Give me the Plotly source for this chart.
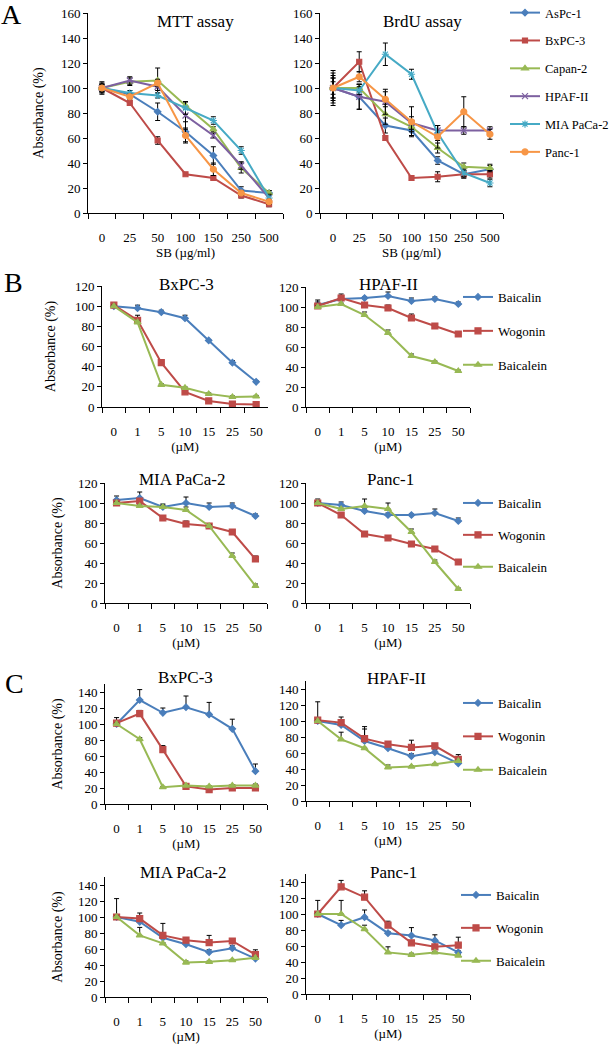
import plotly.graph_objects as go

W, H = 613, 1050
FONT = "'Liberation Serif', 'Times New Roman', Times, serif"

# ---------------- data ----------------
sb_doses = ["0", "25", "50", "100", "150", "250", "500"]
um_doses = ["0", "1", "5", "10", "15", "25", "50"]
a_lines = ["AsPc-1", "BxPC-3", "Capan-2", "HPAF-II", "MIA PaCa-2", "Panc-1"]
flavonoids = ["Baicalin", "Wogonin", "Baicalein"]

# Panel A - MTT assay
mtt_aspc1 = [100, 95, 81, 65, 46, 18, 16]
mtt_bxpc3 = [100, 88, 58, 31, 28, 14, 7]
mtt_capan2 = [100, 105, 106, 86, 67, 36, 16]
mtt_hpaf2 = [100, 106, 101, 78, 62, 38, 12]
mtt_miapaca2 = [100, 96, 94, 84, 74, 50, 12]
mtt_panc1 = [100, 93, 104, 62, 35, 16, 9]
mtt_aspc1_err = [5, 3, 7, 8, 7, 3, 2]
mtt_bxpc3_err = [3, 2, 3, 1, 1, 2, 2]
mtt_capan2_err = [3, 3, 10, 3, 2, 4, 2]
mtt_hpaf2_err = [3, 3, 3, 11, 2, 3, 2]
mtt_miapaca2_err = [3, 2, 2, 5, 3, 3, 3]
mtt_panc1_err = [4, 2, 3, 6, 5, 2, 2]

# Panel A - BrdU assay
brdu_aspc1 = [100, 93, 70, 66, 42, 31, 35]
brdu_bxpc3 = [100, 121, 60, 28, 29, 31, 31]
brdu_capan2 = [100, 100, 79, 69, 52, 37, 36]
brdu_hpaf2 = [100, 93, 89, 72, 66, 66, 66]
brdu_miapaca2 = [100, 98, 127, 111, 64, 32, 24]
brdu_panc1 = [100, 109, 91, 73, 61, 81, 63]
brdu_aspc1_err = [14, 10, 6, 4, 3, 3, 3]
brdu_bxpc3_err = [8, 8, 2, 2, 4, 3, 3]
brdu_capan2_err = [12, 3, 8, 4, 4, 3, 3]
brdu_hpaf2_err = [8, 10, 10, 5, 4, 3, 3]
brdu_miapaca2_err = [10, 3, 9, 4, 6, 3, 3]
brdu_panc1_err = [5, 4, 6, 12, 9, 12, 4]

# Panel B
b_bxpc3_baicalin = [100, 98, 94, 88, 66, 44, 25]
b_bxpc3_wogonin = [101, 86, 44, 15, 6, 3, 2.5]
b_bxpc3_baicalein = [100, 84, 22, 19, 13, 10, 10.5]
b_bxpc3_baicalin_err = [2, 3, 2, 3, 1, 2, 1]
b_bxpc3_wogonin_err = [2, 5, 3, 2, 1, 1, 1]
b_bxpc3_baicalein_err = [1, 1, 1, 1, 1, 1, 1]

b_hpaf2_baicalin = [102, 108, 109, 111, 106, 108, 103]
b_hpaf2_wogonin = [101, 109, 102, 99, 89, 81, 73]
b_hpaf2_baicalein = [100, 103, 92, 74, 51, 45, 36]
b_hpaf2_baicalin_err = [3, 2, 1, 4, 3, 2, 2]
b_hpaf2_wogonin_err = [6, 4, 2, 3, 4, 2, 2]
b_hpaf2_baicalein_err = [1, 1, 3, 3, 2, 1, 1]

b_mia_baicalin = [103, 105, 96, 100, 96, 97, 87]
b_mia_wogonin = [100, 102, 85, 79, 77, 71, 44]
b_mia_baicalein = [100, 97, 96, 93, 77, 47, 17]
b_mia_baicalin_err = [4, 6, 3, 6, 4, 3, 2]
b_mia_wogonin_err = [1, 2, 2, 3, 1, 2, 3]
b_mia_baicalein_err = [1, 1, 2, 3, 1, 3, 2]

b_panc1_baicalin = [100, 98, 92, 88, 88, 90, 82]
b_panc1_wogonin = [100, 88, 69, 65, 59, 54, 41]
b_panc1_baicalein = [100, 94, 97, 94, 71, 41, 14]
b_panc1_baicalin_err = [4, 3, 2, 2, 1, 4, 3]
b_panc1_wogonin_err = [2, 2, 1, 2, 2, 2, 2]
b_panc1_baicalein_err = [1, 1, 7, 6, 3, 2, 1]

# Panel C
c_bxpc3_baicalin = [100, 130, 114, 121, 112, 94, 41]
c_bxpc3_wogonin = [101, 113, 68, 22, 18, 20, 20]
c_bxpc3_baicalein = [100, 81, 21, 23, 22, 23, 23]
c_bxpc3_baicalin_err = [8, 13, 6, 14, 15, 12, 9]
c_bxpc3_wogonin_err = [2, 4, 5, 1, 1, 1, 1]
c_bxpc3_baicalein_err = [1, 2, 1, 1, 1, 1, 2]

c_hpaf2_baicalin = [100, 95, 75, 66, 56, 61, 47]
c_hpaf2_wogonin = [101, 98, 78, 71, 67, 69, 52]
c_hpaf2_baicalein = [100, 77, 66, 42, 43, 46, 50]
c_hpaf2_baicalin_err = [1, 2, 15, 2, 3, 3, 3]
c_hpaf2_wogonin_err = [23, 7, 15, 3, 9, 2, 6]
c_hpaf2_baicalein_err = [1, 9, 1, 3, 1, 1, 1]

c_mia_baicalin = [100, 94, 74, 66, 56, 61, 48]
c_mia_wogonin = [100, 98, 77, 71, 68, 70, 53]
c_mia_baicalein = [100, 77, 67, 43, 44, 46, 49]
c_mia_baicalin_err = [1, 2, 2, 2, 3, 3, 3]
c_mia_wogonin_err = [23, 7, 15, 3, 9, 2, 6]
c_mia_baicalein_err = [1, 10, 1, 2, 1, 1, 1]

c_panc1_baicalin = [100, 86, 96, 76, 73, 67, 52]
c_panc1_wogonin = [100, 134, 121, 86, 64, 59, 61]
c_panc1_baicalein = [100, 100, 81, 52, 49, 52, 48]
c_panc1_baicalin_err = [17, 6, 9, 2, 10, 7, 2]
c_panc1_wogonin_err = [1, 8, 8, 5, 2, 2, 10]
c_panc1_baicalein_err = [1, 17, 5, 7, 2, 1, 1]

# ---------------- styles ----------------
a_styles = {
    "AsPc-1": ("#4A7EBB", "diamond", 5),
    "BxPC-3": ("#BE4B48", "square", 5),
    "Capan-2": ("#98B954", "triangle-up", 6),
    "HPAF-II": ("#7D60A0", "x-thin-open", 6),
    "MIA PaCa-2": ("#46AAC5", "asterisk-open", 6),
    "Panc-1": ("#F79646", "circle", 6),
}
f_styles = {
    "Baicalin": ("#4A7EBB", "diamond", 5),
    "Wogonin": ("#BE4B48", "square", 6),
    "Baicalein": ("#98B954", "triangle-up", 6),
}

mtt_vals = [mtt_aspc1, mtt_bxpc3, mtt_capan2, mtt_hpaf2, mtt_miapaca2, mtt_panc1]
mtt_errs = [mtt_aspc1_err, mtt_bxpc3_err, mtt_capan2_err, mtt_hpaf2_err, mtt_miapaca2_err, mtt_panc1_err]
brdu_vals = [brdu_aspc1, brdu_bxpc3, brdu_capan2, brdu_hpaf2, brdu_miapaca2, brdu_panc1]
brdu_errs = [brdu_aspc1_err, brdu_bxpc3_err, brdu_capan2_err, brdu_hpaf2_err, brdu_miapaca2_err, brdu_panc1_err]

panels = [
    dict(title="MTT assay", x0=88, x1=283, yt=13, yb=213, ymax=160, cats=sb_doses,
         vals=mtt_vals, errs=mtt_errs, names=a_lines, styles=a_styles, ytitle=True, ystand=14,
         xtitle="SB (µg/ml)", legend=None, sym=True, tpos=(195, 21)),
    dict(title="BrdU assay", x0=320, x1=503, yt=13, yb=213, ymax=160, cats=sb_doses,
         vals=brdu_vals, errs=brdu_errs, names=a_lines, styles=a_styles, ytitle=False, ystand=10,
         xtitle="SB (µg/ml)", legend="legend", sym=True, tpos=(422, 21)),
    dict(title="BxPC-3", x0=102, x1=268, yt=286, yb=407, ymax=120, cats=um_doses,
         vals=[b_bxpc3_baicalin, b_bxpc3_wogonin, b_bxpc3_baicalein],
         errs=[b_bxpc3_baicalin_err, b_bxpc3_wogonin_err, b_bxpc3_baicalein_err],
         names=flavonoids, styles=f_styles, ytitle=True, ystand=16, xtitle="(µM)", legend=None, sym=False,
         tpos=(186, 285)),
    dict(title="HPAF-II", x0=306, x1=470, yt=287, yb=407, ymax=120, cats=um_doses,
         vals=[b_hpaf2_baicalin, b_hpaf2_wogonin, b_hpaf2_baicalein],
         errs=[b_hpaf2_baicalin_err, b_hpaf2_wogonin_err, b_hpaf2_baicalein_err],
         names=flavonoids, styles=f_styles, ytitle=False, ystand=10, xtitle="(µM)", legend="legend2", sym=False,
         tpos=(388, 285)),
    dict(title="MIA PaCa-2", x0=105, x1=267, yt=483, yb=603, ymax=120, cats=um_doses,
         vals=[b_mia_baicalin, b_mia_wogonin, b_mia_baicalein],
         errs=[b_mia_baicalin_err, b_mia_wogonin_err, b_mia_baicalein_err],
         names=flavonoids, styles=f_styles, ytitle=True, ystand=12, xtitle="(µM)", legend=None, sym=False,
         tpos=(182, 480)),
    dict(title="Panc-1", x0=306, x1=470, yt=483, yb=603, ymax=120, cats=um_doses,
         vals=[b_panc1_baicalin, b_panc1_wogonin, b_panc1_baicalein],
         errs=[b_panc1_baicalin_err, b_panc1_wogonin_err, b_panc1_baicalein_err],
         names=flavonoids, styles=f_styles, ytitle=False, ystand=10, xtitle="(µM)", legend="legend3", sym=False,
         tpos=(390, 480)),
    dict(title="BxPC-3", x0=105, x1=267, yt=684, yb=804, ymax=150, cats=um_doses,
         vals=[c_bxpc3_baicalin, c_bxpc3_wogonin, c_bxpc3_baicalein],
         errs=[c_bxpc3_baicalin_err, c_bxpc3_wogonin_err, c_bxpc3_baicalein_err],
         names=flavonoids, styles=f_styles, ytitle=True, ystand=12, xtitle="(µM)", legend=None, sym=False,
         tpos=(185, 677)),
    dict(title="HPAF-II", x0=306, x1=470, yt=681, yb=801, ymax=150, cats=um_doses,
         vals=[c_hpaf2_baicalin, c_hpaf2_wogonin, c_hpaf2_baicalein],
         errs=[c_hpaf2_baicalin_err, c_hpaf2_wogonin_err, c_hpaf2_baicalein_err],
         names=flavonoids, styles=f_styles, ytitle=False, ystand=10, xtitle="(µM)", legend="legend4", sym=False,
         tpos=(397, 678)),
    dict(title="MIA PaCa-2", x0=105, x1=267, yt=877, yb=997, ymax=150, cats=um_doses,
         vals=[c_mia_baicalin, c_mia_wogonin, c_mia_baicalein],
         errs=[c_mia_baicalin_err, c_mia_wogonin_err, c_mia_baicalein_err],
         names=flavonoids, styles=f_styles, ytitle=True, ystand=12, xtitle="(µM)", legend=None, sym=False,
         tpos=(183, 872)),
    dict(title="Panc-1", x0=306, x1=470, yt=874, yb=994, ymax=150, cats=um_doses,
         vals=[c_panc1_baicalin, c_panc1_wogonin, c_panc1_baicalein],
         errs=[c_panc1_baicalin_err, c_panc1_wogonin_err, c_panc1_baicalein_err],
         names=flavonoids, styles=f_styles, ytitle=False, ystand=10, xtitle="(µM)", legend="legend5", sym=False,
         tpos=(393, 872)),
]

fig = go.Figure()
annotations = []
layout = {}

for i, p in enumerate(panels, start=1):
    xr = "x" if i == 1 else f"x{i}"
    yr = "y" if i == 1 else f"y{i}"
    xk = "xaxis" if i == 1 else f"xaxis{i}"
    yk = "yaxis" if i == 1 else f"yaxis{i}"
    for name, v, e in zip(p["names"], p["vals"], p["errs"]):
        color, symbol, size = p["styles"][name]
        err = dict(type="data", array=e, visible=True, color="black", thickness=1, width=2.5)
        if not p["sym"]:
            err["symmetric"] = False
            err["arrayminus"] = [0] * len(e)
        fig.add_trace(go.Scatter(
            x=p["cats"], y=v, xaxis=xr, yaxis=yr, name=name,
            mode="lines+markers",
            line=dict(color=color, width=2),
            marker=dict(symbol=symbol, size=size, color=color, line=dict(color=color, width=1.2)),
            error_y=err,
            showlegend=p["legend"] is not None,
            legend=p["legend"] if p["legend"] else "legend",
            legendgroup=f"{p['legend']}-{name}",
        ))
    layout[xk] = dict(
        domain=[p["x0"] / W, p["x1"] / W], anchor=yr, type="category",
        categoryorder="array", categoryarray=p["cats"], range=[-0.5, len(p["cats"]) - 0.5],
        showline=True, linecolor="black", linewidth=1, ticks="outside", tickson="boundaries",
        ticklen=5, tickcolor="black", showgrid=False, zeroline=False, tickangle=0,
        tickfont=dict(family=FONT, size=13, color="black"), ticklabelstandoff=12,
        title=dict(text=p["xtitle"], font=dict(family=FONT, size=13, color="black"), standoff=4),
    )
    layout[yk] = dict(
        domain=[1 - p["yb"] / H, 1 - p["yt"] / H], anchor=xr, range=[0, p["ymax"]], dtick=20,
        tick0=0, showline=True, linecolor="black", linewidth=1, ticks="outside", ticklen=4,
        tickcolor="black", showgrid=False, zeroline=False,
        tickfont=dict(family=FONT, size=13, color="black"),
        title=dict(text="Absorbance (%)" if p["ytitle"] else "",
                   font=dict(family=FONT, size=14, color="black"), standoff=p["ystand"]),
    )
    annotations.append(dict(text=p["title"], x=p["tpos"][0] / W, y=1 - p["tpos"][1] / H,
                            xref="paper", yref="paper", xanchor="center", yanchor="middle",
                            showarrow=False, font=dict(family=FONT, size=17, color="black")))

for letter, (lx, ly) in {"A": (12, 15), "B": (13, 282), "C": (14, 683)}.items():
    annotations.append(dict(text=letter, x=lx / W, y=1 - ly / H, xref="paper", yref="paper",
                            xanchor="center", yanchor="middle", showarrow=False,
                            font=dict(family=FONT, size=28, color="black")))

def leg(xpx, ytop, gap, size=13):
    return dict(x=xpx / W, y=1 - ytop / H, xanchor="left", yanchor="top", xref="paper", yref="paper",
                font=dict(family=FONT, size=size, color="black"), bgcolor="rgba(0,0,0,0)",
                tracegroupgap=gap, itemwidth=30, borderwidth=0)

layout["legend"] = leg(505, -2, 8.6, 12.5)
layout["legend2"] = leg(458, 282, 14)
layout["legend3"] = leg(458, 488, 12)
layout["legend4"] = leg(458, 688, 13.5)
layout["legend5"] = leg(456, 880, 13)

fig.update_layout(
    width=W, height=H, margin=dict(l=0, r=0, t=0, b=0, autoexpand=False),
    paper_bgcolor="white", plot_bgcolor="white",
    annotations=annotations, **layout,
)

fig.write_html("out.html", config={"displayModeBar": False},
               post_script="document.body.style.margin='0';")
